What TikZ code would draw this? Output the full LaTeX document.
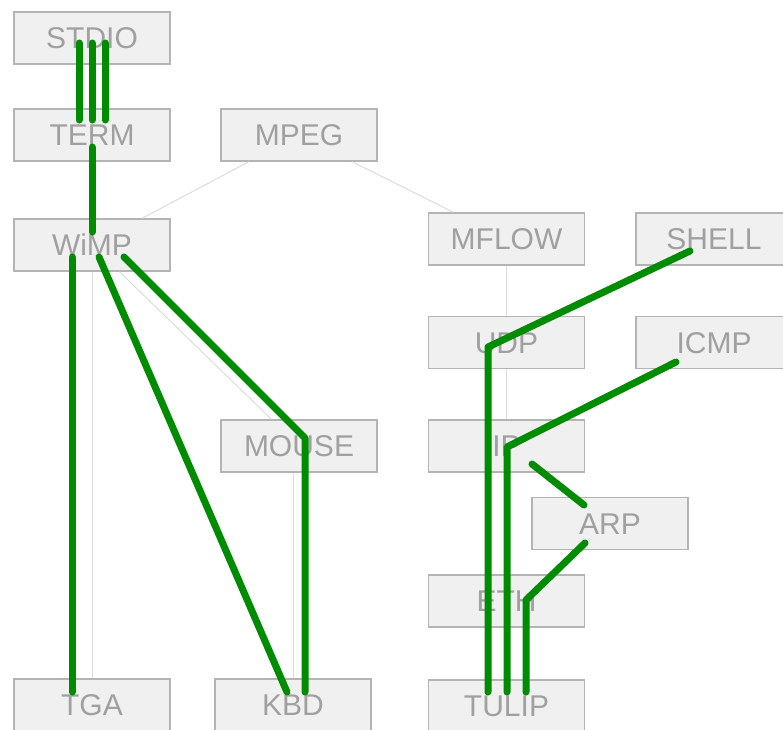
\documentclass[tikz,border=0pt]{standalone}
\usepackage{fontspec}
\setmainfont{Liberation Sans}
\usetikzlibrary{calc}
\definecolor{boxfill}{HTML}{F0F0F0}
\definecolor{boxline}{HTML}{B4B4B4}
\definecolor{boxtext}{HTML}{A0A0A0}
\definecolor{linkgrey}{HTML}{DCDCDC}
\definecolor{pathgreen}{HTML}{008C00}
\begin{document}
\begin{tikzpicture}[x=1pt,y=-1pt,
  mod/.style={draw=boxline, line width=1.3pt, fill=boxfill, text=boxtext,
    minimum width=156pt, minimum height=52pt, inner sep=0pt,
    font=\fontsize{30}{36}\selectfont, text height=21.5pt, text depth=0pt},
  dep/.style={draw=linkgrey, line width=1pt},
  route/.style={draw=pathgreen, line width=7pt, line cap=round, line join=round}]
\useasboundingbox (0,0) rectangle (783,729);
% modules
\node[mod] (STDIO) at (92,38) {STDIO};
\node[mod] (TERM) at (92,135) {TERM};
\node[mod] (MPEG) at (299,135) {MPEG};
\node[mod] (WiMP) at (92,245) {WiMP};
\node[mod] (MFLOW) at (506.5,239) {MFLOW};
\node[mod] (SHELL) at (714,239) {SHELL};
\node[mod] (UDP) at (506.5,342.5) {UDP};
\node[mod] (ICMP) at (714,342.5) {ICMP};
\node[mod] (MOUSE) at (299,446) {MOUSE};
\node[mod] (IP) at (506.5,446) {IP};
\node[mod] (ARP) at (610,523.5) {ARP};
\node[mod] (ETH) at (506.5,601) {ETH};
\node[mod] (TGA) at (92,705) {TGA};
\node[mod] (KBD) at (293,705) {KBD};
\node[mod] (TULIP) at (506.5,706) {TULIP};
% dependencies
\draw[dep] (MPEG) -- (WiMP);
\draw[dep] (MPEG) -- (MFLOW);
\draw[dep] (MFLOW) -- (UDP);
\draw[dep] (UDP) -- (IP);
\draw[dep] (WiMP) -- (TGA);
\draw[dep] (WiMP) -- (MOUSE);
\draw[dep] (MOUSE.south -| KBD.north) -- (KBD.north);
% routes
\draw[route] ($(STDIO.center)+(-13,5)$) -- ($(TERM.center)+(-13,-15)$);
\draw[route] ($(STDIO.center)+(0,5)$) -- ($(TERM.center)+(0,-15)$);
\draw[route] ($(STDIO.center)+(13,5)$) -- ($(TERM.center)+(13,-15)$);
\draw[route] ($(TERM.center)+(0,12)$) -- ($(WiMP.center)+(0,-13)$);
\draw[route] ($(WiMP.center)+(-20,12)$) -- ($(TGA.center)+(-20,-13)$);
\draw[route] ($(WiMP.center)+(7,12)$) -- ($(KBD.center)+(-6,-13)$);
\draw[route] ($(WiMP.center)+(32,12)$) -- ($(MOUSE.center)+(6,-8)$) -- ($(KBD.center)+(12,-13)$);
\draw[route] ($(SHELL.center)+(-24,12)$) -- ($(UDP.center)+(-18.5,4.5)$) -- ($(TULIP.center)+(-18.5,-14)$);
\draw[route] ($(ICMP.center)+(-38,19.5)$) -- ($(IP.center)+(0.5,1)$) -- ($(TULIP.center)+(0.5,-14)$);
\draw[route] ($(IP.center)+(25.5,18)$) -- ($(ARP.center)+(-26,-18.5)$);
\draw[route] ($(ARP.center)+(-25,19.5)$) -- ($(ETH.center)+(19.5,-1)$) -- ($(TULIP.center)+(19.5,-14)$);
\end{tikzpicture}
\end{document}
